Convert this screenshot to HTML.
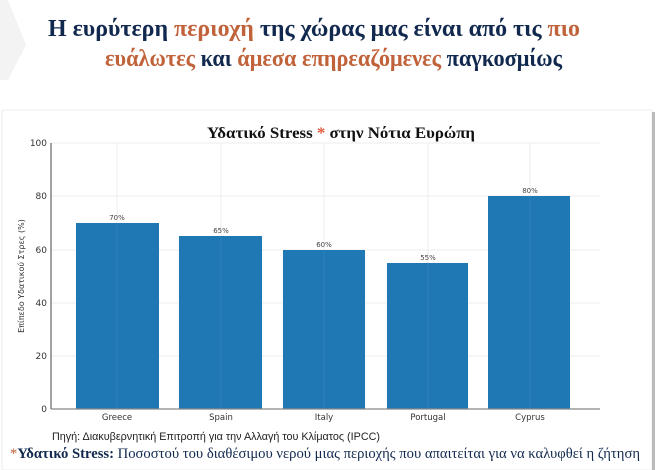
<!DOCTYPE html>
<html><head><meta charset="utf-8"><style>
html,body{margin:0;padding:0;background:#fff;width:662px;height:470px;overflow:hidden}
</style></head><body>
<svg width="662" height="470" xmlns="http://www.w3.org/2000/svg">
<polygon points="0,0 8,0 26,45 8,80 0,80" fill="#f3f3f3"/>
<text x="48" y="36" font-family="Liberation Serif, serif" font-weight="bold" font-size="24" fill="#12294f" textLength="532" lengthAdjust="spacingAndGlyphs">Η ευρύτερη <tspan fill="#c0623a">περιοχή</tspan> της χώρας μας είναι από τις <tspan fill="#c0623a">πιο</tspan></text>
<text x="105" y="66" font-family="Liberation Serif, serif" font-weight="bold" font-size="24" fill="#12294f" textLength="457" lengthAdjust="spacingAndGlyphs"><tspan fill="#c0623a">ευάλωτες</tspan> και <tspan fill="#c0623a">άμεσα επηρεαζόμενες</tspan> παγκοσμίως</text>
<rect x="2" y="110" width="650" height="360" fill="#fff" stroke="#eee"/>
<rect x="652" y="112" width="3" height="358" fill="#bbb"/>
<g stroke="#ececec" stroke-width="1">
<line x1="51" y1="143" x2="600" y2="143"/><line x1="51" y1="196" x2="600" y2="196"/><line x1="51" y1="250" x2="600" y2="250"/><line x1="51" y1="303" x2="600" y2="303"/><line x1="51" y1="356" x2="600" y2="356"/>
<line x1="117" y1="143" x2="117" y2="409"/><line x1="221" y1="143" x2="221" y2="409"/><line x1="324" y1="143" x2="324" y2="409"/><line x1="428" y1="143" x2="428" y2="409"/><line x1="530" y1="143" x2="530" y2="409"/>
</g>
<text x="207" y="138" font-family="Liberation Serif, serif" font-weight="bold" font-size="16" fill="#111" textLength="268" lengthAdjust="spacingAndGlyphs">Υδατικό Stress <tspan fill="#e05a3a">*</tspan> στην Νότια Ευρώπη</text>
<g fill="#1f77b4">
<rect x="76" y="223" width="83" height="186"/><rect x="179" y="236" width="83" height="173"/><rect x="283" y="250" width="82" height="159"/><rect x="387" y="263" width="81" height="146"/><rect x="488" y="196" width="82" height="213"/>
</g>
<g stroke="#3a88c0" stroke-width="0.6"><line x1="117" y1="223" x2="117" y2="409"/><line x1="221" y1="236" x2="221" y2="409"/><line x1="324" y1="250" x2="324" y2="409"/><line x1="428" y1="263" x2="428" y2="409"/><line x1="530" y1="196" x2="530" y2="409"/></g>
<line x1="51" y1="143" x2="51" y2="409" stroke="#444"/>
<line x1="51" y1="409" x2="600" y2="409" stroke="#888" stroke-width="1.2"/>
<g font-family="DejaVu Sans, sans-serif" font-size="9" fill="#333" text-anchor="end">
<text x="47" y="146">100</text><text x="47" y="199">80</text><text x="47" y="253">60</text><text x="47" y="306">40</text><text x="47" y="359">20</text><text x="47" y="412">0</text>
</g>
<g font-family="DejaVu Sans, sans-serif" font-size="7" fill="#444" text-anchor="middle">
<text x="117" y="220">70%</text><text x="221" y="233">65%</text><text x="324" y="247">60%</text><text x="428" y="260">55%</text><text x="530" y="193">80%</text>
</g>
<g font-family="DejaVu Sans, sans-serif" font-size="8.5" fill="#333" text-anchor="middle">
<text x="117" y="420">Greece</text><text x="221" y="420">Spain</text><text x="324" y="420">Italy</text><text x="428" y="420">Portugal</text><text x="530" y="420">Cyprus</text>
</g>
<text transform="translate(24,276) rotate(-90)" text-anchor="middle" font-family="DejaVu Sans, sans-serif" font-size="8" fill="#333">Επίπεδο Υδατικού Στρες (%)</text>
<text x="52" y="440" font-family="Liberation Sans, sans-serif" font-size="11" fill="#222" textLength="328" lengthAdjust="spacingAndGlyphs">Πηγή: Διακυβερνητική Επιτροπή για την Αλλαγή του Κλίματος (IPCC)</text>
<text x="10" y="458" font-family="Liberation Serif, serif" font-size="15" fill="#12294f" textLength="630" lengthAdjust="spacingAndGlyphs"><tspan fill="#c0623a">*</tspan><tspan font-weight="bold">Υδατικό Stress:</tspan> Ποσοστού  του διαθέσιμου νερού μιας περιοχής που απαιτείται για να καλυφθεί η ζήτηση</text>
</svg>
</body></html>
